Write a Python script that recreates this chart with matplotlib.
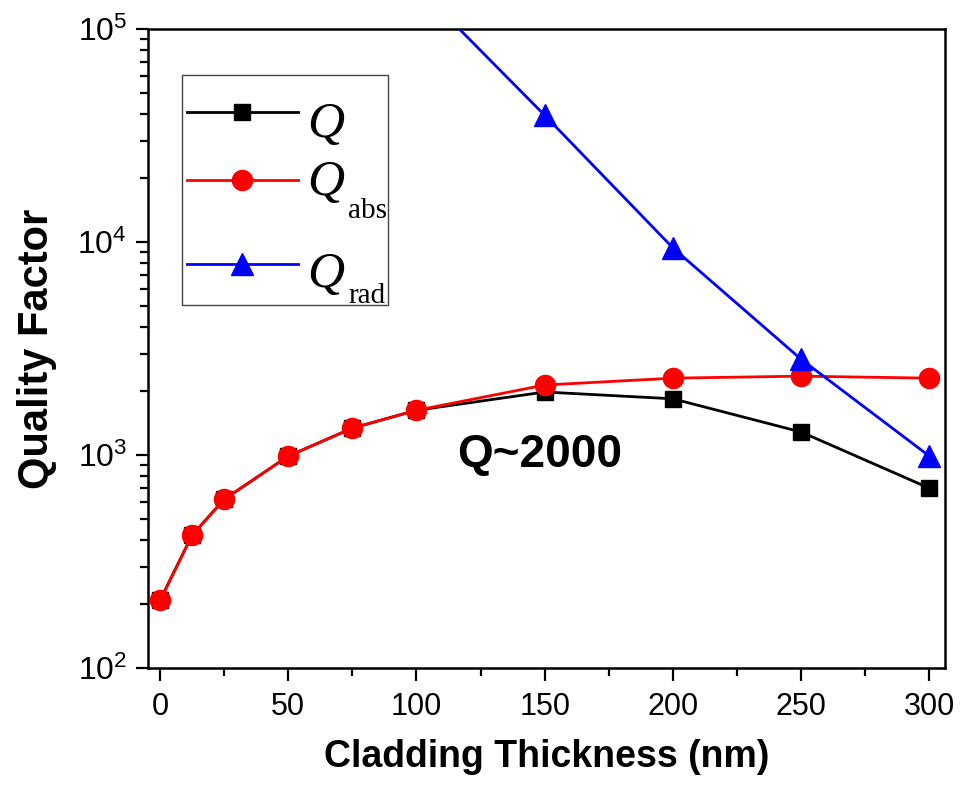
#!/usr/bin/env python3

import math
import matplotlib
matplotlib.use('Agg')
import matplotlib.pyplot as plt
from matplotlib.patches import Rectangle
from matplotlib.ticker import FuncFormatter, LogLocator, MultipleLocator

# cladding thickness (nm)
thick = [0, 12.5, 25, 50, 75, 100, 150, 200, 250, 300]
q_tot = [208, 421, 620, 990, 1340, 1625, 1980, 1840, 1285, 700]
q_abs = [208, 421, 620, 990, 1340, 1625, 2135, 2300, 2350, 2300]

thick_rad = [100, 150, 200, 250, 300]
q_rad = [160000, 39400, 9400, 2820, 990]

names = ['Q', 'Q', 'Q']
subs = ['', 'abs', 'rad']

plt.rcParams['font.family'] = ['Liberation Sans', 'DejaVu Sans']
plt.rcParams['mathtext.fontset'] = 'custom'
plt.rcParams['mathtext.rm'] = 'Liberation Serif'
plt.rcParams['mathtext.it'] = 'Liberation Serif:italic'
plt.rcParams['mathtext.sf'] = 'Liberation Sans'

fig = plt.figure(figsize=(9.67, 7.88), dpi=100)
axe = fig.add_axes([0.153, 0.152, 0.824, 0.811])

lw = 2.0
styles = [dict(color='black', marker='s', ms=12),
          dict(color='red', marker='o', ms=14.5),
          dict(color='blue', marker='^', ms=16)]

axe.plot(thick, q_tot, lw=lw, zorder=3, **styles[0])
axe.plot(thick, q_abs, lw=lw, zorder=4, **styles[1])
axe.plot(thick_rad, q_rad, lw=lw, zorder=5, **styles[2])

axe.set_yscale('log')
axe.set_ylim(100, 1e5)
axe.set_xlim(-4.7, 306)

axe.xaxis.set_major_locator(MultipleLocator(50))
axe.xaxis.set_minor_locator(MultipleLocator(25))
axe.yaxis.set_major_locator(LogLocator(base=10))
axe.yaxis.set_minor_locator(LogLocator(base=10, subs=range(2, 10)))
axe.yaxis.set_major_formatter(
    FuncFormatter(lambda v, p: r'$\mathsf{10^{%d}}$' % round(math.log10(v))))

axe.tick_params(which='both', direction='out', width=1.6,
                top=False, right=False)
axe.tick_params(which='major', length=9)
axe.tick_params(which='minor', length=6)
axe.tick_params(axis='x', labelsize=22, pad=8)
axe.tick_params(axis='y', labelsize=23, pad=6)
for s in axe.spines.values():
    s.set_linewidth(1.8)

axe.set_xlabel('Cladding Thickness (nm)', fontsize=27, fontweight='bold', labelpad=12)
axe.set_ylabel('Quality Factor', fontsize=30, fontweight='bold', labelpad=15)

axe.text(148, 1000, 'Q~2000', fontsize=33, fontweight='bold', va='center', ha='center')

# legend box, built by hand so the subscripts sit low like in Origin
axe.add_patch(Rectangle((0.0427, 0.568), 0.258, 0.36, transform=axe.transAxes,
                        facecolor='white', edgecolor='#444444', lw=1.0, zorder=8))
row_line = [0.870, 0.764, 0.632]
row_base = [0.831, 0.740, 0.596]
sub_base = [0.0, 0.704, 0.571]
for i in range(3):
    axe.plot([0.049, 0.188], [row_line[i]] * 2, transform=axe.transAxes,
             lw=lw, clip_on=False, zorder=9, **{k: v for k, v in styles[i].items() if k != 'marker'})
    axe.plot([0.1185], [row_line[i]], transform=axe.transAxes, ls='none',
             clip_on=False, zorder=10, **styles[i])
    axe.text(0.200, row_base[i], names[i], transform=axe.transAxes, fontsize=37,
             family='Liberation Serif', style='italic', va='baseline', ha='left', zorder=10)
    if subs[i]:
        axe.text(0.251, sub_base[i], subs[i], transform=axe.transAxes, fontsize=21,
                 family='Liberation Serif', va='baseline', ha='left', zorder=10)

plt.savefig('out.png', dpi=100)
